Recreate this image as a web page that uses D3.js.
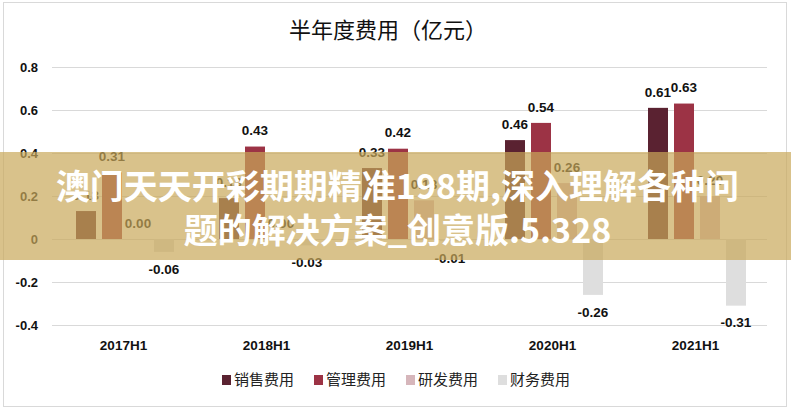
<!DOCTYPE html>
<html>
<head>
<meta charset="utf-8">
<script src="https://cdn.jsdelivr.net/npm/d3@7"></script>
<style>
  body { margin: 0; background: #fff; }
  svg { display: block; }
</style>
</head>
<body>
<script>
var width = 791,
    height = 413;

// 数据
var categories = ['2017H1', '2018H1', '2019H1', '2020H1', '2021H1'];
var seriesNames = ['销售费用', '管理费用', '研发费用', '财务费用'];
var sales = [0.13, 0.19, 0.33, 0.46, 0.61];
var admin = [0.31, 0.43, 0.42, 0.54, 0.63];
var rnd = [0.00, 0.00, 0.18, 0.26, 0.20];
var finance = [-0.06, -0.03, -0.01, -0.26, -0.31];
var yTicks = [-0.4, -0.2, 0, 0.2, 0.4, 0.6, 0.8];
var colors = ['#5a2231', '#9c3345', '#d6b6bb', '#dedede'];

var title = '半年度费用（亿元）';
var bannerLines = ['澳门天天开彩期期精准198期,深入理解各种问', '题的解决方案_创意版.5.328'];

var allSeries = [sales, admin, rnd, finance];

// d3 v7 用的是 U+2212，参考图是普通连字符
function fmt(spec) {
    var f = d3.format(spec);
    return function (d) { return f(d).replace('\u2212', '-'); };
}

var svg = d3.select('body').append('svg').attr('width', width).attr('height', height);

// 外框
svg.append('rect')
    .attr('x', 3.5).attr('y', 2.5)
    .attr('width', 783).attr('height', 404)
    .attr('fill', '#fff')
    .attr('stroke', '#d9d9d9');

var y = d3.scaleLinear().domain([-0.4, 0.8]).range([325, 67]);
var x0 = d3.scaleBand().domain(categories).range([52, 767]);
var x1 = d3.scaleBand().domain(seriesNames).range([24, 122]).paddingInner(0.231);

// 网格线
svg.append('g').selectAll('line')
    .data(yTicks)
    .enter()
    .append('line')
    .attr('x1', 52).attr('x2', 767)
    .attr('y1', function (d) { return Math.round(y(d)) + 0.5; })
    .attr('y2', function (d) { return Math.round(y(d)) + 0.5; })
    .attr('stroke', '#d9d9d9');

// y轴
var y1f = fmt('.1f');
var yAxis = svg.append('g')
    .attr('transform', 'translate(38,0)')
    .call(d3.axisLeft(y).tickValues(yTicks).tickSize(0).tickPadding(0)
        .tickFormat(function (d) { return d === 0 ? '0' : y1f(d); }));
yAxis.select('.domain').remove();
yAxis.selectAll('text')
    .attr('font-family', 'Liberation Sans, Arial, sans-serif')
    .attr('font-size', 13)
    .attr('font-weight', 'bold')
    .attr('fill', '#111');

// x轴
var xAxis = svg.append('g')
    .attr('transform', 'translate(0,340)')
    .call(d3.axisBottom(x0).tickSize(0).tickPadding(0));
xAxis.select('.domain').remove();
xAxis.selectAll('text')
    .attr('font-family', 'Liberation Sans, Arial, sans-serif')
    .attr('font-size', 13.5)
    .attr('font-weight', 'bold')
    .attr('fill', '#111');

// 柱子
var rows = [];
categories.forEach(function (c, i) {
    seriesNames.forEach(function (s, k) {
        rows.push({ cat: c, name: s, k: k, value: allSeries[k][i] });
    });
});

svg.append('g').selectAll('rect')
    .data(rows)
    .enter()
    .append('rect')
    .attr('x', function (d) { return x0(d.cat) + x1(d.name); })
    .attr('y', function (d) { return y(Math.max(0, d.value)); })
    .attr('width', x1.bandwidth())
    .attr('height', function (d) { return Math.abs(y(d.value) - y(0)); })
    .attr('fill', function (d) { return colors[d.k]; });

// 数据标签
var f2 = fmt('.2f');
svg.append('g').selectAll('text')
    .data(rows)
    .enter()
    .append('text')
    .attr('x', function (d) { return x0(d.cat) + x1(d.name) + x1.bandwidth() / 2; })
    .attr('y', function (d) {
        return d.value < 0 ? y(d.value) + 17 : y(d.value) - 16;
    })
    .attr('dy', '0.35em')
    .attr('text-anchor', 'middle')
    .attr('font-family', 'Liberation Sans, Arial, sans-serif')
    .attr('font-size', 13.5)
    .attr('font-weight', 'bold')
    .attr('fill', '#111')
    .text(function (d) { return f2(d.value); });

// 标题
svg.append('text')
    .attr('x', 388).attr('y', 30)
    .attr('dy', '0.35em')
    .attr('text-anchor', 'middle')
    .attr('font-family', 'Noto Sans CJK SC, sans-serif')
    .attr('font-size', 22)
    .attr('fill', '#111')
    .text(title);

// 图例
var legend = svg.append('g').selectAll('g')
    .data(seriesNames)
    .enter()
    .append('g')
    .attr('transform', function (d, i) { return 'translate(' + (222 + i * 92) + ',380)'; });
legend.append('rect')
    .attr('x', 0).attr('y', -5)
    .attr('width', 9).attr('height', 10)
    .attr('fill', function (d, i) { return colors[i]; });
legend.append('text')
    .attr('x', 12).attr('y', 0)
    .attr('dy', '0.35em')
    .attr('font-family', 'Noto Sans CJK SC, sans-serif')
    .attr('font-size', 15)
    .attr('fill', '#222')
    .text(function (d) { return d; });

// 水印横幅
svg.append('rect')
    .attr('x', 0).attr('y', 152)
    .attr('width', width).attr('height', 108)
    .attr('fill', '#c9a85a')
    .attr('opacity', 0.7);

svg.append('g').selectAll('text')
    .data(bannerLines)
    .enter()
    .append('text')
    .attr('x', width / 2 + 2)
    .attr('y', function (d, i) { return 187 + i * 44; })
    .attr('dy', '0.36em')
    .attr('text-anchor', 'middle')
    .attr('font-family', 'Noto Sans CJK SC, sans-serif')
    .attr('font-size', 34)
    .attr('font-weight', 'bold')
    .attr('fill', '#fff')
    .text(function (d) { return d; });
</script>
</body>
</html>
